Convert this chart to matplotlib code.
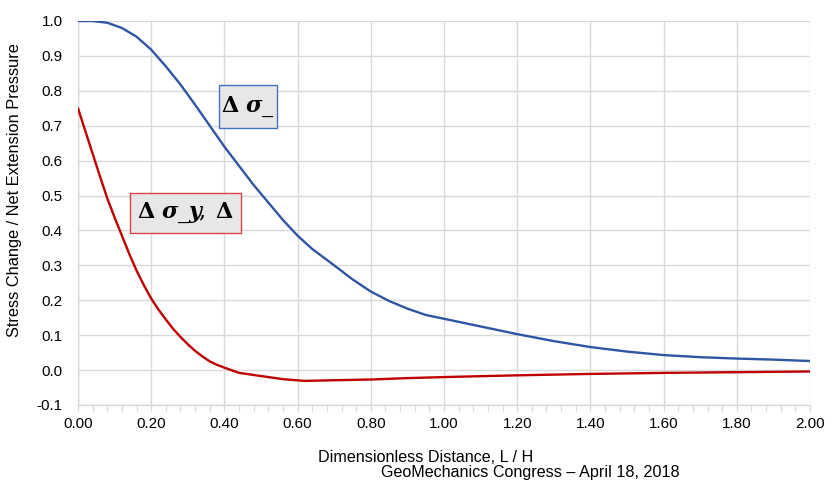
import matplotlib
matplotlib.use("Agg")
import matplotlib.pyplot as plt
from matplotlib.patches import Rectangle
from matplotlib.ticker import MultipleLocator, FormatStrFormatter

# Dimensionless distance L/H and the two stress-change curves
dist_normal = [0.00, 0.04, 0.08, 0.12, 0.16, 0.20, 0.24, 0.28, 0.32, 0.36,
               0.40, 0.44, 0.48, 0.52, 0.56, 0.60, 0.64, 0.70, 0.75, 0.80,
               0.85, 0.90, 0.95, 1.00, 1.10, 1.20, 1.30, 1.40, 1.50, 1.60,
               1.70, 1.80, 1.90, 2.00]
stress_normal = [1.000, 1.000, 0.995, 0.980, 0.955, 0.918, 0.870, 0.818, 0.760, 0.700,
                 0.640, 0.585, 0.530, 0.480, 0.430, 0.385, 0.347, 0.300, 0.260, 0.225,
                 0.198, 0.176, 0.158, 0.147, 0.125, 0.103, 0.083, 0.066, 0.053, 0.043,
                 0.037, 0.033, 0.030, 0.026]

dist_lateral = [0.00, 0.02, 0.04, 0.06, 0.08, 0.10, 0.12, 0.14, 0.16, 0.18,
                0.20, 0.22, 0.24, 0.26, 0.28, 0.30, 0.32, 0.34, 0.36, 0.38,
                0.40, 0.44, 0.50, 0.56, 0.62, 0.70, 0.80, 0.90, 1.00, 1.20,
                1.40, 1.60, 1.80, 2.00]
stress_lateral = [0.750, 0.685, 0.620, 0.555, 0.492, 0.437, 0.385, 0.333, 0.285, 0.243,
                  0.205, 0.173, 0.145, 0.118, 0.095, 0.074, 0.055, 0.039, 0.025, 0.015,
                  0.007, -0.008, -0.017, -0.026, -0.031, -0.029, -0.027, -0.023, -0.020, -0.015,
                  -0.011, -0.008, -0.006, -0.004]

label_normal = r"$\mathbf{\Delta}\ \boldsymbol{\sigma}\_$"
label_lateral = r"$\mathbf{\Delta}\ \boldsymbol{\sigma}\_\boldsymbol{y}\!,\;\mathbf{\Delta}$"
xlabel = "Dimensionless Distance, L / H"
ylabel = "Stress Change / Net Extension Pressure"
footer = "GeoMechanics Congress – April 18, 2018"

BLUE = "#2f55a4"
RED = "#c00000"
GRID = "#d9d9d9"
W, H = 833, 487

plt.rcParams["font.family"] = ["Liberation Sans", "DejaVu Sans"]
plt.rcParams["mathtext.fontset"] = "dejavuserif"

fig = plt.figure(figsize=(W / 100, H / 100), dpi=100)
ax = fig.add_axes([78 / W, 1 - 405 / H, (810 - 78) / W, (405 - 21) / H])

ax.plot(dist_normal, stress_normal, color=BLUE, lw=1.7, solid_capstyle="round",
        solid_joinstyle="round", zorder=3)
ax.plot(dist_lateral, stress_lateral, color=RED, lw=1.7, solid_capstyle="round",
        solid_joinstyle="round", zorder=3)

ax.set_xlim(0, 2.0)
ax.set_ylim(-0.1, 1.0)
ax.xaxis.set_major_locator(MultipleLocator(0.2))
ax.xaxis.set_minor_locator(MultipleLocator(0.04))
ax.yaxis.set_major_locator(MultipleLocator(0.1))
ax.xaxis.set_major_formatter(FormatStrFormatter("%.2f"))
ax.yaxis.set_major_formatter(FormatStrFormatter("%.1f"))

ax.grid(True, which="major", color=GRID, lw=1.0, zorder=0)
ax.set_axisbelow(True)
for side in ("top", "right"):
    ax.spines[side].set_visible(False)
for side in ("left", "bottom"):
    ax.spines[side].set_color(GRID)
    ax.spines[side].set_linewidth(1.0)

ax.tick_params(axis="y", which="major", length=0, labelsize=11, colors="#000000", pad=11)
ax.tick_params(axis="x", which="minor", length=4, color=GRID, width=1.0)
ax.tick_params(axis="x", which="major", length=4, color=GRID, width=1.0, pad=5,
               labelsize=11, labelcolor="#000000")

ax.set_ylabel(ylabel, fontsize=11.8)
ax.yaxis.set_label_coords(-(78 - 22) / 732, (405 - 190) / 384)

fig.text(426 / W, 1 - 458 / H, xlabel, fontsize=11.6, ha="center", va="center")
fig.text(530 / W, 1 - 472 / H, footer, fontsize=11.6, ha="center", va="center")


def callout(x0, y0, x1, y1, text, edge):
    """Grey framed label box given in pixel extents (top-left origin)."""
    fig.patches.append(Rectangle((x0 / W, 1 - y1 / H), (x1 - x0) / W, (y1 - y0) / H,
                                 transform=fig.transFigure, fc="#e7e7e7", ec=edge,
                                 lw=1.0, zorder=5))
    fig.text((x0 + x1) / 2 / W, 1 - (y0 + y1) / 2 / H, text, ha="center", va="center",
             fontsize=16, zorder=6)


callout(219, 85, 277, 128, label_normal, "#4472c4")
callout(130, 193, 241, 233, label_lateral, "#e04040")

fig.savefig("out.png", dpi=100)
